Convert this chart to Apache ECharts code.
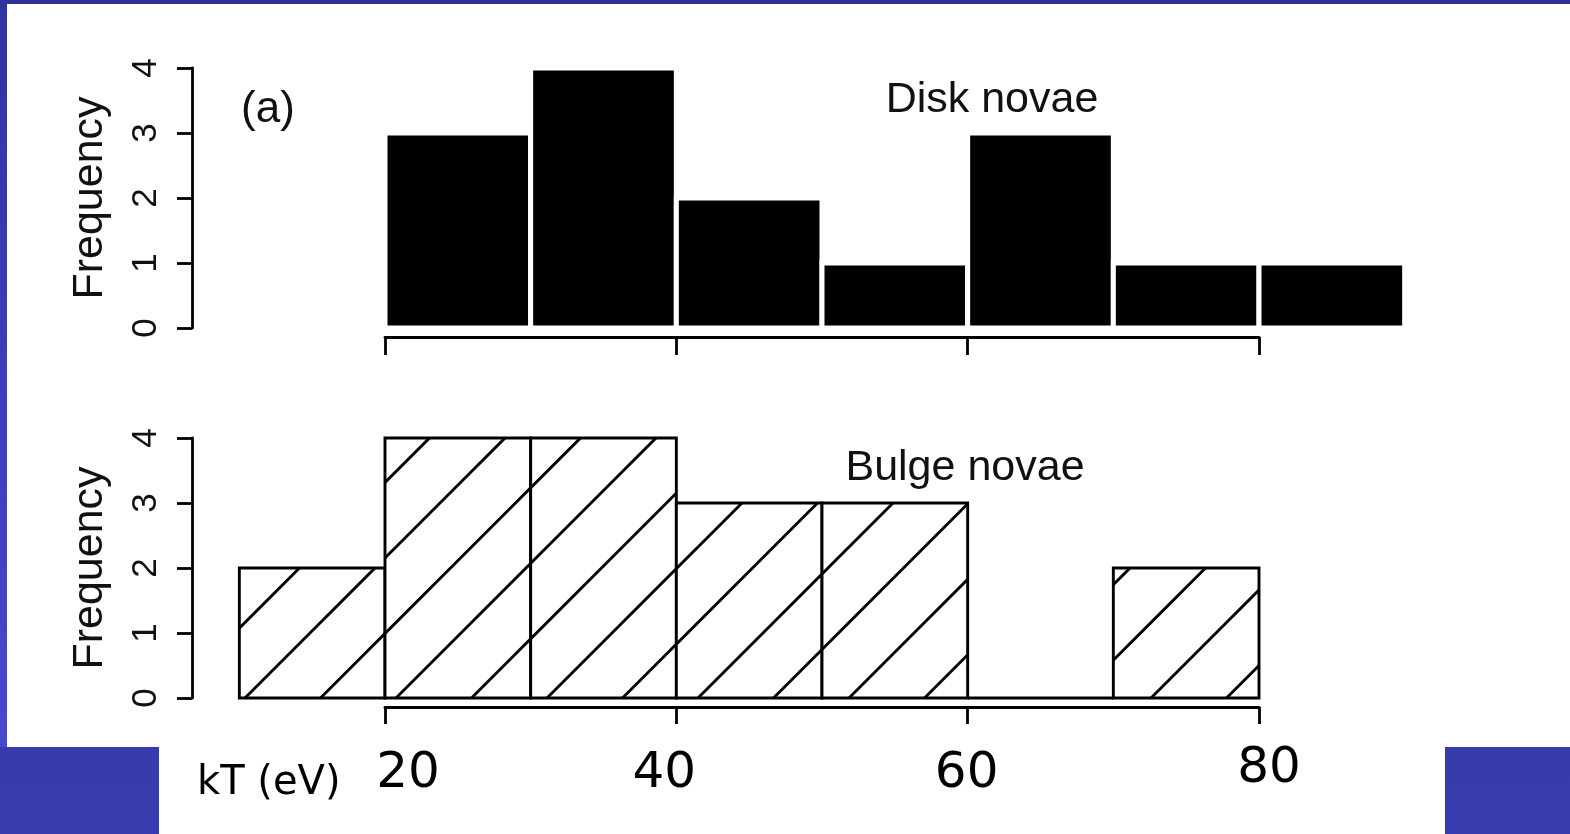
<!DOCTYPE html>
<html><head><meta charset="utf-8">
<script src="https://cdn.jsdelivr.net/npm/echarts@6/dist/echarts.min.js"></script>
<style>
html,body{margin:0;padding:0;width:1570px;height:834px;overflow:hidden;}
body{background:linear-gradient(180deg,#2e3292 0%,#383cae 100%);position:relative;}
.strip{position:absolute;left:0;top:0;width:7px;height:747px;background:linear-gradient(180deg,#3034a0 0%,#4749cc 100%);}
.w1{position:absolute;left:7px;top:4px;width:1563px;height:743px;background:#fff;}
.w2{position:absolute;left:159px;top:747px;width:1286px;height:87px;background:#fff;}
#chart{position:absolute;left:0;top:0;width:1570px;height:834px;}
</style></head><body>
<div class="strip"></div><div class="w1"></div><div class="w2"></div>
<div id="chart"></div>
<script>
// ---- data ----
const binWidth = 10;
const diskBinStart = [20, 30, 40, 50, 60, 70, 80];
const diskCounts   = [3, 4, 2, 1, 3, 1, 1];
const bulgeBinStart = [10, 20, 30, 40, 50, 60, 70];
const bulgeCounts   = [2, 4, 4, 3, 3, 0, 2];
const kTTickValues = [20, 40, 60, 80];
const kTTickLabels = ['20', '40', '60', '80'];
const freqMin = 0, freqMax = 4, freqStep = 1;
const panelTitles = ['Disk novae', 'Bulge novae'];
const panelTag = '(a)';
const xAxisTitle = 'kT (eV)';

// ---- layout ----
const X20 = 385, X80 = 1259;
const PX = (X80 - X20) / 60;
const X10 = X20 - 10 * PX;
const SANS = '"Liberation Sans", Arial, Helvetica, sans-serif';
const COMIC = '"Comic Sans MS", "DejaVu Sans", sans-serif';
const INK = '#111';

function toBins(starts, counts) {
  return starts.map((s, i) => [s, s + binWidth, counts[i]]);
}

function makeHatch() {
  const P = 151, s = 75.5, c0 = 37;
  const cv = document.createElement('canvas');
  cv.width = P; cv.height = P;
  const g = cv.getContext('2d');
  g.fillStyle = '#fff'; g.fillRect(0, 0, P, P);
  g.strokeStyle = '#000'; g.lineWidth = 2.9;
  for (let c = c0 - 2 * s; c <= 2 * P + s; c += s) {
    g.beginPath(); g.moveTo(c + 30, -30); g.lineTo(-30, c + 30); g.stroke();
  }
  return cv;
}
const hatch = makeHatch();

function rectRender(style) {
  return function (params, api) {
    const p0 = api.coord([api.value(0), api.value(2)]);
    const p1 = api.coord([api.value(1), 0]);
    return {
      type: 'rect',
      shape: { x: p0[0], y: p0[1], width: p1[0] - p0[0], height: p1[1] - p0[1] },
      style: Object.assign({}, style)
    };
  };
}

function freqAxis(gridIndex) {
  return {
    gridIndex, type: 'value', min: freqMin, max: freqMax, interval: freqStep,
    position: 'left', offset: X10 - 192,
    axisLine: { show: true, onZero: false, lineStyle: { color: '#000', width: 2.8 } },
    axisTick: { show: true, length: 15, lineStyle: { color: '#000', width: 2.8 } },
    axisLabel: { rotate: 90, fontSize: 35, fontFamily: SANS, color: INK, margin: 28 },
    splitLine: { show: false },
    name: 'Frequency', nameLocation: 'middle', nameGap: 80,
    nameTextStyle: { fontSize: 43, fontFamily: SANS, color: INK }
  };
}

const nudges = [
  { padding: [0, 0, 0, 46] },
  { padding: [0, 24, 0, 0] },
  { padding: [0, 2, 0, 0] },
  { padding: [0, 0, 10, 20] }
];
const rich = {};
nudges.forEach((n, i) => {
  rich['t' + i] = Object.assign({ fontSize: 50, fontFamily: COMIC, color: '#000' }, n);
});

const chart = echarts.init(document.getElementById('chart'), null, { renderer: 'canvas' });
chart.setOption({
  animation: false,
  backgroundColor: 'transparent',
  grid: [
    { left: X10, width: 80 * PX, top: 68, height: 260 },
    { left: X10, width: 80 * PX, top: 438, height: 260 },
    { left: X20, width: 60 * PX, top: 336, height: 1 },
    { left: X20, width: 60 * PX, top: 706, height: 1 }
  ],
  xAxis: [
    { gridIndex: 0, type: 'value', min: 10, max: 90, show: false },
    { gridIndex: 1, type: 'value', min: 10, max: 90, show: false },
    { gridIndex: 2, type: 'value', min: 20, max: 80, interval: 20,
      axisLine: { show: true, onZero: false, lineStyle: { color: '#000', width: 2.8 } },
      axisTick: { show: true, length: 18, lineStyle: { color: '#000', width: 2.8 } },
      axisLabel: { show: false }, splitLine: { show: false } },
    { gridIndex: 3, type: 'value', min: 20, max: 80, interval: 20,
      axisLine: { show: true, onZero: false, lineStyle: { color: '#000', width: 2.8 } },
      axisTick: { show: true, length: 17, lineStyle: { color: '#000', width: 2.8 } },
      axisLabel: {
        show: true, margin: 67, verticalAlign: 'middle',
        fontSize: 50, fontFamily: COMIC, color: '#000',
        formatter: function (v) {
          const i = kTTickValues.indexOf(v);
          return i < 0 ? '' : '{t' + i + '|' + kTTickLabels[i] + '}';
        },
        rich: rich
      },
      splitLine: { show: false } }
  ],
  yAxis: [
    freqAxis(0), freqAxis(1),
    { gridIndex: 2, type: 'value', min: 0, max: 1, show: false },
    { gridIndex: 3, type: 'value', min: 0, max: 1, show: false }
  ],
  series: [
    { type: 'custom', xAxisIndex: 0, yAxisIndex: 0, silent: true,
      data: toBins(diskBinStart, diskCounts), encode: { x: [0, 1], y: 2 },
      renderItem: rectRender({ fill: '#000', stroke: '#fff', lineWidth: 5 }) },
    { type: 'custom', xAxisIndex: 1, yAxisIndex: 1, silent: true,
      data: toBins(bulgeBinStart, bulgeCounts), encode: { x: [0, 1], y: 2 },
      renderItem: rectRender({ fill: { image: hatch, repeat: 'repeat' }, stroke: '#000', lineWidth: 2.9 }) }
  ],
  graphic: [
    { type: 'text', x: 268, y: 110, silent: true,
      style: { text: panelTag, font: '44px ' + SANS, fill: INK, align: 'center', verticalAlign: 'middle' } },
    { type: 'text', x: 992, y: 100, silent: true,
      style: { text: panelTitles[0], font: '43px ' + SANS, fill: INK, align: 'center', verticalAlign: 'middle' } },
    { type: 'text', x: 965, y: 468, silent: true,
      style: { text: panelTitles[1], font: '43px ' + SANS, fill: INK, align: 'center', verticalAlign: 'middle' } },
    { type: 'text', x: 197, y: 784, silent: true,
      style: { text: xAxisTitle, font: '40px ' + COMIC, fill: '#000', align: 'left', verticalAlign: 'middle' } }
  ]
});
</script></body></html>
